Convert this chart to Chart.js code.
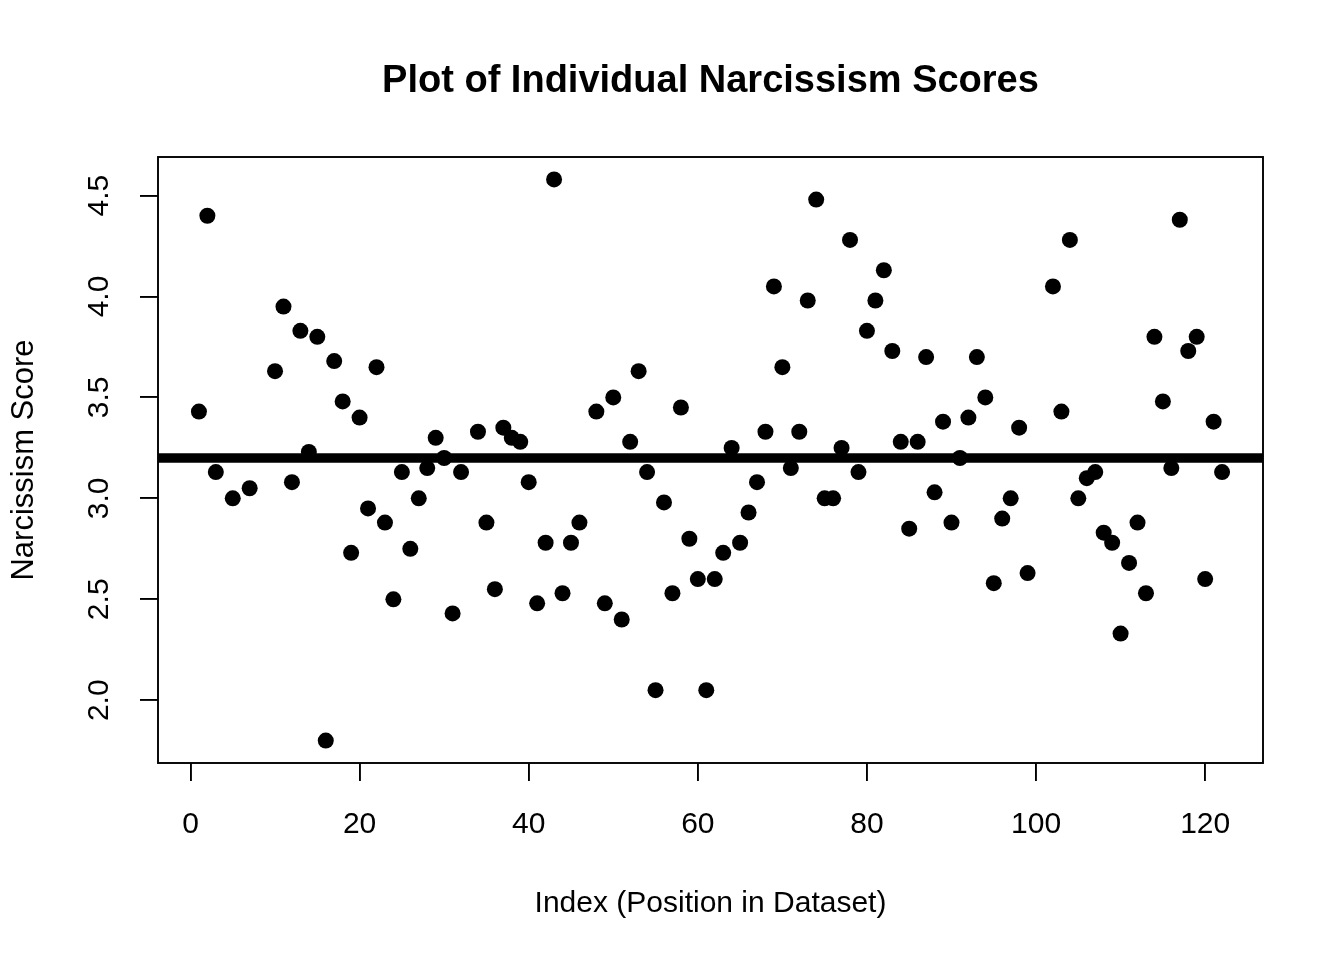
<!DOCTYPE html>
<html>
<head>
<meta charset="utf-8">
<title>Plot of Individual Narcissism Scores</title>
<script src="https://cdn.jsdelivr.net/npm/chart.js@4"></script>
<style>
    body { margin: 0; background: #fff; }
    #wrap { width: 1344px; height: 960px; }
</style>
</head>
<body>
<div id="wrap"><canvas id="scoreChart" width="1344" height="960"></canvas></div>

<script>

// index in the dataset (null score = missing value)
let indexes = [];
for (let i = 1; i <= 122; i++) indexes.push(i);

let scores = [
    3.43, 4.40, 3.13, null, 3.00, null, 3.05, null, null, 3.63,
    3.95, 3.08, 3.83, 3.23, 3.80, 1.80, 3.68, 3.48, 2.73, 3.40,
    2.95, 3.65, 2.88, 2.50, 3.13, 2.75, 3.00, 3.15, 3.30, 3.20,
    2.43, 3.13, null, 3.33, 2.88, 2.55, 3.35, 3.30, 3.28, 3.08,
    2.48, 2.78, 4.58, 2.53, 2.78, 2.88, null, 3.43, 2.48, 3.50,
    2.40, 3.28, 3.63, 3.13, 2.05, 2.98, 2.53, 3.45, 2.80, 2.60,
    2.05, 2.60, 2.73, 3.25, 2.78, 2.93, 3.08, 3.33, 4.05, 3.65,
    3.15, 3.33, 3.98, 4.48, 3.00, 3.00, 3.25, 4.28, 3.13, 3.83,
    3.98, 4.13, 3.73, 3.28, 2.85, 3.28, 3.70, 3.03, 3.38, 2.88,
    3.20, 3.40, 3.70, 3.50, 2.58, 2.90, 3.00, 3.35, 2.63, null,
    null, 4.05, 3.43, 4.28, 3.00, 3.10, 3.13, 2.83, 2.78, 2.33,
    2.68, 2.88, 2.53, 3.80, 3.48, 3.15, 4.38, 3.73, 3.80, 2.60,
    3.38, 3.13
];

let meanScore = 3.2;

let xTicks = [0, 20, 40, 60, 80, 100, 120];
let yTicks = [2.0, 2.5, 3.0, 3.5, 4.0, 4.5];

// axis limits (R style, range + 4%)
let xMin = -3.84, xMax = 126.84;
let yMin = 1.689, yMax = 4.691;

let points = [];
for (let i = 0; i < indexes.length; i++) {
    if (scores[i] !== null) points.push({ x: indexes[i], y: scores[i] });
}

let fontFamily = "'Liberation Sans', Arial, Helvetica, sans-serif";

// box round the plot region
const boxPlugin = {
    id: "plotBox",
    afterDraw(chart) {
        let a = chart.chartArea;
        let ctx = chart.ctx;
        ctx.save();
        ctx.strokeStyle = "#000";
        ctx.lineWidth = 1.9;
        ctx.strokeRect(a.left, a.top, a.right - a.left, a.bottom - a.top);
        ctx.restore();
    }
};

let ctx1 = document.getElementById("scoreChart").getContext("2d");

new Chart(ctx1, {
    type: "scatter",
    data: {
        datasets: [
            {
                type: "line",
                label: "Mean",
                data: [{ x: xMin, y: meanScore }, { x: xMax, y: meanScore }],
                borderColor: "#000",
                borderWidth: 9.5,
                borderCapStyle: "butt",
                pointRadius: 0,
                fill: false
            },
            {
                label: "Narcissism Score",
                data: points,
                backgroundColor: "#000",
                borderWidth: 0,
                pointRadius: 8,
                pointHoverRadius: 8
            }
        ]
    },
    options: {
        responsive: false,
        animation: false,
        layout: {
            padding: { left: 0, right: 81, top: 0, bottom: 0 }
        },
        plugins: {
            legend: { display: false },
            tooltip: { enabled: false },
            title: {
                display: true,
                fullSize: false,
                text: "Plot of Individual Narcissism Scores",
                color: "#000",
                font: { family: fontFamily, size: 38, weight: "bold", lineHeight: 1.2 },
                padding: { top: 59.2, bottom: 52.2 }
            }
        },
        scales: {
            x: {
                type: "linear",
                min: xMin,
                max: xMax,
                afterFit(scale) { scale.height = 197; },
                afterBuildTicks(scale) { scale.ticks = xTicks.map(v => ({ value: v })); },
                border: { display: false },
                grid: {
                    drawOnChartArea: false,
                    drawTicks: true,
                    tickLength: 18,
                    color: "#000",
                    lineWidth: 1.9
                },
                ticks: {
                    autoSkip: false,
                    maxRotation: 0,
                    padding: 26,
                    color: "#000",
                    font: { family: fontFamily, size: 30, lineHeight: 1.2 }
                },
                title: {
                    display: true,
                    text: "Index (Position in Dataset)",
                    color: "#000",
                    font: { family: fontFamily, size: 30, lineHeight: 1.2 },
                    padding: { top: 0, bottom: 38 }
                }
            },
            y: {
                type: "linear",
                min: yMin,
                max: yMax,
                afterFit(scale) { scale.width = 158; },
                afterBuildTicks(scale) { scale.ticks = yTicks.map(v => ({ value: v })); },
                border: { display: false },
                grid: {
                    drawOnChartArea: false,
                    drawTicks: true,
                    tickLength: 18,
                    color: "#000",
                    lineWidth: 1.9
                },
                ticks: {
                    autoSkip: false,
                    minRotation: 90,
                    maxRotation: 90,
                    crossAlign: "center",
                    padding: 19,
                    color: "#000",
                    font: { family: fontFamily, size: 30, lineHeight: 1.2 },
                    callback: v => v.toFixed(1)
                },
                title: {
                    display: true,
                    text: "Narcissism Score",
                    color: "#000",
                    font: { family: fontFamily, size: 31, lineHeight: 1.2 },
                    padding: { top: 6, bottom: 0 }
                }
            }
        }
    },
    plugins: [boxPlugin]
});

</script>
</body>
</html>
